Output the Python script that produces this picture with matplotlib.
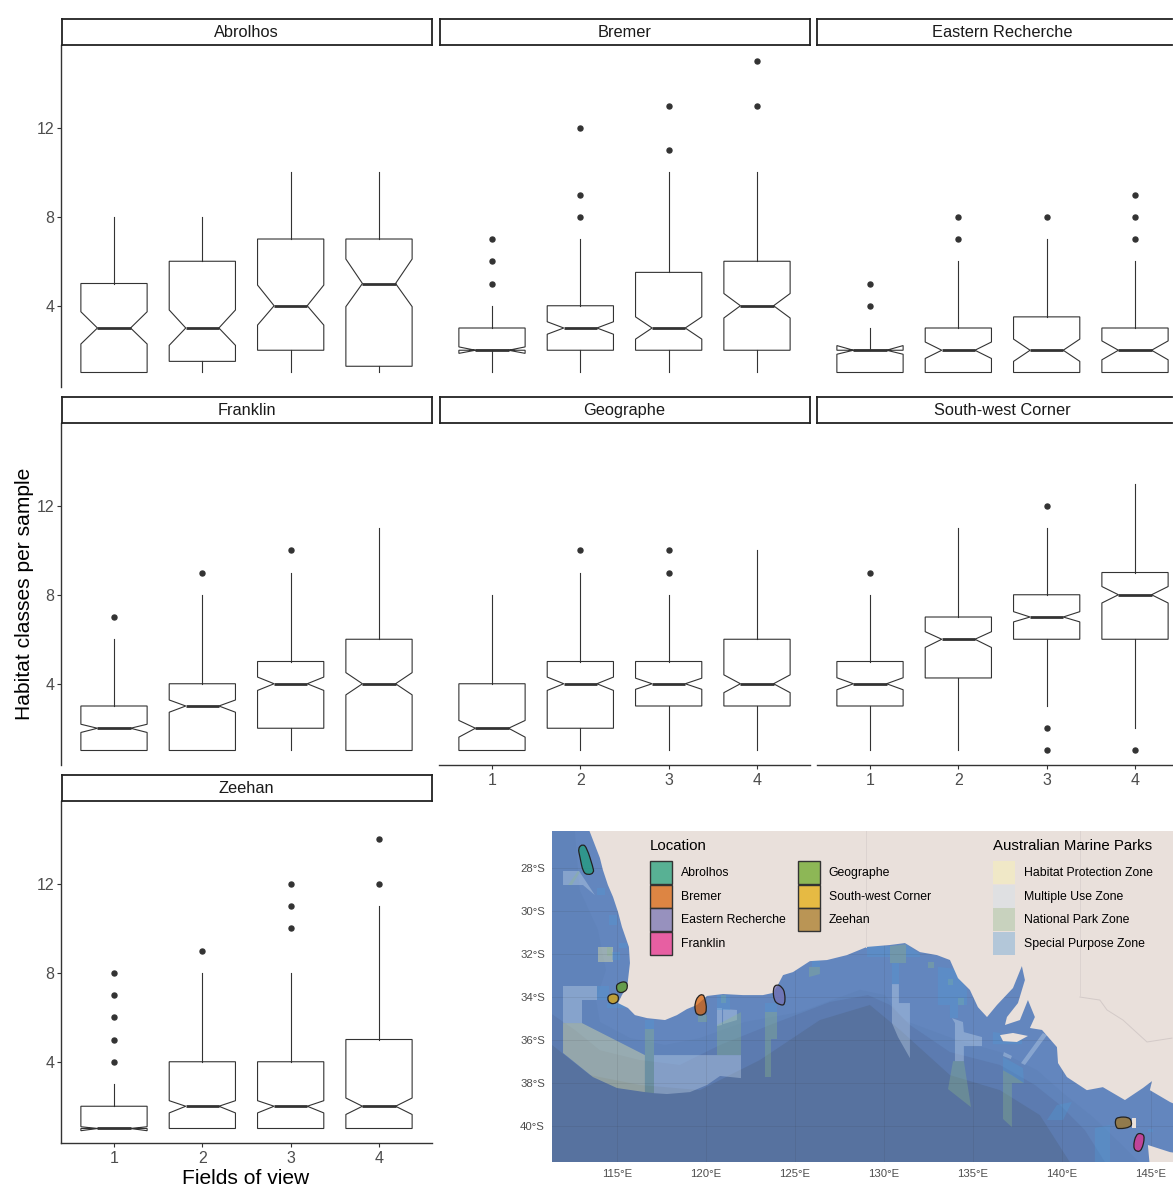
# habitat classes per sample by fields of view, with site map
import matplotlib
matplotlib.use('Agg')
from matplotlib import pyplot as plt
from matplotlib.colors import to_rgba
from matplotlib.patches import Patch, PathPatch, Polygon
from matplotlib.path import Path

plt.rcParams['font.family'] = ['Liberation Sans', 'DejaVu Sans']

W, H = 1173, 1187

# box plot values, one row per facet, one entry per fields of view (1-4)
facets = ['Abrolhos', 'Bremer', 'Eastern Recherche', 'Franklin', 'Geographe',
          'South-west Corner', 'Zeehan']
fields = [1, 2, 3, 4]
box_q1 = [[1, 1.5, 2, 1.28], [2, 2, 2, 2], [1, 1, 1, 1], [1, 1, 2, 1],
          [1, 2, 3, 3], [3, 4.26, 6, 6], [1, 1, 1, 1]]
box_med = [[3, 3, 4, 5], [2, 3, 3, 4], [2, 2, 2, 2], [2, 3, 4, 4],
           [2, 4, 4, 4], [4, 6, 7, 8], [1, 2, 2, 2]]
box_q3 = [[5, 6, 7, 7], [3, 4, 5.5, 6], [2, 3, 3.5, 3], [3, 4, 5, 6],
          [4, 5, 5, 6], [5, 7, 8, 9], [2, 4, 4, 5]]
whisk_lo = [[1, 1, 1, 1], [1, 1, 1, 1], [1, 1, 1, 1], [1, 1, 1, 1],
            [1, 1, 1, 1], [1, 1, 3, 2], [1, 1, 1, 1]]
whisk_hi = [[8, 8, 10, 10], [4, 7, 10, 10], [3, 6, 7, 6], [6, 8, 9, 11],
            [8, 9, 8, 10], [8, 11, 11, 13], [3, 8, 8, 11]]
notch_lo = [[2.28, 2.22, 3.13, 3.96], [1.86, 2.72, 2.5, 3.45], [1.82, 1.63, 1.5, 1.57],
            [1.81, 2.72, 3.7, 3.5], [1.6, 3.7, 3.75, 3.6], [3.73, 5.63, 6.78, 7.63],
            [0.9, 1.7, 1.7, 1.63]]
notch_hi = [[3.73, 3.81, 4.93, 6.1], [2.15, 3.28, 3.5, 4.55], [2.21, 2.37, 2.5, 2.42],
            [2.18, 3.27, 4.3, 4.5], [2.35, 4.3, 4.25, 4.4], [4.27, 6.34, 7.24, 8.37],
            [1.08, 2.25, 2.25, 2.37]]
outliers = [[[], [], [], []],
            [[5, 6, 7], [8, 9, 12], [11, 13], [13, 15]],
            [[4, 5], [7, 8], [8], [7, 8, 9]],
            [[7], [9], [10], []],
            [[], [10], [9, 10], []],
            [[9], [], [1, 2, 12], [1]],
            [[4, 5, 6, 7, 8], [9], [10, 11, 12], [12, 14]]]

# map layers, lon/lat
abyss_lon = [111.0, 113.48, 116.29, 119.66, 123.03, 126.40, 129.21, 130.90, 133.71, 136.52,
             138.76, 140.73, 111.0]
abyss_lat = [-36.0, -37.63, -38.09, -38.33, -36.93, -35.07, -34.37, -35.53, -37.63, -38.33,
             -39.49, -42.05, -42.05]
deep_lon = [111.0, 112.64, 114.04, 116.29, 118.54, 120.79, 123.60, 126.97, 129.10, 130.34,
            131.46, 133.71, 136.52, 138.48, 139.89, 141.29, 142.70, 111.0]
deep_lat = [-34.60, -35.53, -36.47, -36.93, -37.16, -36.23, -35.30, -34.23, -33.91, -34.37,
            -35.30, -36.56, -37.16, -38.09, -39.02, -40.19, -42.05, -42.05]
slope_lon = [111.0, 112.6, 112.9, 113.93, 114.38, 113.82, 114.04, 115.73, 117.70, 119.66, 122.19,
             125.28, 128.65, 130.06, 131.07, 134.10, 136.69, 138.60, 140.06, 141.74, 143.26,
             144.78, 111.0]
slope_lat = [-26.0, -26.0, -29.02, -30.88, -32.74, -34.14, -35.16, -35.91, -36.23, -35.91, -35.16,
             -34.70, -33.67, -33.91, -35.07, -36.00, -36.60, -37.40, -38.47, -39.58, -40.79,
             -42.05, -42.05]
land_lon = [113.48, 113.76, 114.04, 114.21, 114.49, 114.78, 115.06, 115.28, 115.67, 115.73,
            115.62, 115.56, 115.28, 115.06, 115.62, 116.01, 116.69, 117.70, 118.37, 118.93,
            119.49, 120.06, 120.96, 122.08, 123.20, 123.76, 124.04, 124.33, 124.89, 125.84,
            126.80, 127.92, 129.04, 130.34, 131.18, 132.02, 132.98, 133.71, 134.16, 134.83,
            135.28, 135.79, 136.35, 137.25, 137.75, 137.92, 137.53, 136.91, 136.80, 137.64,
            138.09, 138.48, 138.20, 138.88, 139.72, 139.78, 140.28, 141.40, 142.30, 143.54,
            144.55, 145.06, 144.94, 146.07, 146.4, 146.4, 113.3]
land_lat = [-26.33, -26.93, -27.53, -28.09, -28.79, -29.35, -30.05, -30.74, -31.67, -32.42,
            -33.21, -33.53, -33.91, -34.28, -34.51, -34.84, -34.98, -35.07, -34.84, -34.56,
            -34.37, -33.95, -33.86, -33.91, -33.91, -33.81, -33.44, -32.98, -32.84, -32.33,
            -32.28, -32.05, -31.67, -31.58, -31.49, -31.91, -32.05, -32.28, -33.12, -33.67,
            -34.47, -34.93, -34.37, -33.58, -32.56, -33.21, -34.28, -34.93, -35.30, -35.07,
            -34.14, -34.93, -35.44, -35.53, -36.33, -37.07, -37.72, -38.33, -38.19, -38.79,
            -38.23, -37.91, -38.33, -38.88, -39.0, -26.0, -26.0]
islands = [([136.52, 137.25, 138.09, 137.47, 136.69], [-35.77, -35.67, -35.81, -36.09, -36.05]),
           ([144.83, 146.07, 146.4, 146.4, 144.94], [-40.88, -41.21, -41.25, -41.9, -41.9]),
           ([143.93, 144.16, 144.16, 143.93], [-39.63, -39.63, -40.09, -40.09])]
border_lon = [141.01, 142.13, 142.53, 143.43, 144.78, 146.18]
border_lat = [-34.0, -34.14, -34.60, -35.07, -36.09, -35.91]

# Australian Marine Parks zones
hpz_polys = [([111.97, 113.03, 116.57, 116.57, 115.0, 113.65, 111.97],
              [-35.21, -35.21, -36.70, -38.42, -38.23, -37.72, -36.60]),
             ([113.93, 114.78, 114.78, 113.93], [-31.67, -31.67, -32.37, -32.37])]
muz_polys = [([111.97, 113.88, 113.88, 113.03, 113.03, 111.97],
              [-33.49, -33.49, -34.14, -34.14, -35.21, -35.21]),
             ([117.08, 121.97, 121.97, 120.79, 120.06, 119.10, 117.81, 117.08],
              [-36.70, -36.70, -37.77, -37.67, -38.09, -38.42, -38.51, -38.47]),
             ([120.62, 120.90, 120.90, 120.62], [-34.51, -34.51, -35.30, -35.35]),
             ([120.96, 121.74, 121.74, 120.96], [-34.56, -34.60, -35.07, -35.26]),
             ([111.97, 112.87, 113.76, 113.09, 111.97], [-28.14, -28.14, -29.26, -28.79, -28.79]),
             ([130.45, 130.84, 130.84, 131.46, 131.46, 130.79, 130.45],
              [-33.40, -33.40, -34.28, -34.28, -36.84, -35.86, -35.21]),
             ([133.82, 134.44, 134.49, 135.51, 135.51, 134.49, 134.49, 133.99, 133.99],
              [-34.98, -35.16, -35.63, -35.86, -36.28, -36.28, -36.98, -36.98, -35.21]),
             ([136.74, 137.19, 137.13, 136.69], [-36.56, -36.74, -36.88, -36.74]),
             ([138.93, 139.16, 137.92, 137.70], [-35.67, -35.77, -37.16, -37.07])]
npz_polys = [([116.57, 117.08, 117.08, 116.57], [-35.49, -35.49, -38.47, -38.42]),
             ([120.62, 121.97, 121.97, 120.62], [-35.30, -34.70, -36.70, -36.70]),
             ([120.84, 121.12, 121.12, 120.84], [-33.91, -33.91, -34.28, -34.28]),
             ([123.31, 123.99, 123.99, 123.65, 123.65, 123.31],
              [-34.70, -34.70, -35.95, -35.95, -37.72, -37.72]),
             ([119.55, 120.06, 120.06, 119.55], [-34.84, -34.84, -35.16, -35.16]),
             ([112.25, 112.81, 112.92, 112.47], [-28.79, -28.14, -28.19, -28.79]),
             ([114.44, 114.72, 114.72, 114.44], [-31.67, -31.67, -32.09, -32.09]),
             ([125.79, 126.40, 126.40, 125.79], [-32.60, -32.60, -32.93, -33.07]),
             ([130.34, 131.24, 131.24, 130.34], [-31.63, -31.55, -32.42, -32.42]),
             ([133.60, 133.88, 133.88, 133.60], [-33.16, -33.16, -33.44, -33.44]),
             ([134.16, 134.49, 134.49, 134.16], [-34.05, -34.05, -34.37, -34.37]),
             ([132.47, 132.81, 132.81, 132.47], [-32.37, -32.37, -32.65, -32.65]),
             ([133.88, 134.49, 134.89, 133.60], [-36.98, -36.98, -39.12, -38.28]),
             ([136.69, 137.19, 137.87, 137.19, 137.19, 136.69],
              [-37.40, -37.63, -38.0, -38.0, -40.05, -39.67])]
spz_polys = [([116.57, 117.08, 117.08, 116.57], [-35.07, -35.07, -35.49, -35.49]),
             ([120.62, 121.35, 121.35, 120.62], [-33.91, -33.91, -34.60, -34.60]),
             ([123.31, 123.99, 123.99, 123.31], [-34.28, -34.28, -34.70, -34.70]),
             ([113.88, 114.55, 114.55, 113.88], [-33.49, -33.49, -34.14, -34.14]),
             ([114.44, 115.45, 115.45, 114.44], [-34.28, -34.28, -34.51, -34.51]),
             ([113.88, 114.33, 114.33, 113.88], [-28.93, -28.93, -29.26, -29.26]),
             ([114.55, 115.0, 115.0, 114.55], [-30.19, -30.19, -30.65, -30.65]),
             ([114.72, 115.17, 115.17, 114.72], [-31.91, -31.91, -32.28, -32.28]),
             ([115.11, 115.56, 115.56, 115.11], [-31.49, -31.49, -31.72, -31.72]),
             ([125.96, 126.40, 126.40, 125.96], [-32.33, -32.33, -32.60, -32.60]),
             ([129.04, 130.34, 130.34, 129.04], [-31.63, -31.63, -32.14, -32.14]),
             ([131.24, 132.02, 132.02, 131.24], [-31.55, -32.0, -32.14, -32.14]),
             ([130.45, 130.84, 130.84, 130.45], [-32.42, -32.42, -33.40, -33.40]),
             ([133.03, 134.10, 134.66, 134.66, 134.16, 134.16, 133.71, 133.71, 133.03],
              [-32.60, -32.70, -33.67, -34.37, -34.37, -34.98, -34.98, -34.37, -34.37]),
             ([136.69, 137.81, 137.87, 136.69], [-36.79, -37.30, -38.0, -37.40]),
             ([136.12, 136.52, 136.63, 137.75, 137.75, 136.12],
              [-35.63, -35.67, -36.09, -35.91, -36.19, -36.19]),
             ([139.72, 140.56, 140.06, 139.16], [-39.02, -38.88, -39.72, -39.72]),
             ([141.85, 142.70, 142.70, 141.85], [-40.09, -39.95, -41.9, -41.9]),
             ([144.83, 145.11, 145.11, 144.83], [-40.14, -40.14, -40.28, -40.28])]
zone_names = ['Habitat Protection Zone', 'Multiple Use Zone', 'National Park Zone',
              'Special Purpose Zone']
zone_polys = [hpz_polys, muz_polys, npz_polys, spz_polys]
zone_colors = ['#fff8a3', '#cfe0f0', '#8cb88a', '#4f9ad6']

# survey locations, same order as facets
site_colors = ['#1B9E77', '#D95F02', '#7570B3', '#E7298A', '#66A61E', '#E6AB02', '#A6761D']
site_polys = [([113.09, 113.31, 113.65, 113.71, 113.37, 113.09, 112.92, 112.81],
               [-26.88, -27.07, -27.95, -28.23, -28.33, -28.19, -27.49, -27.07]),
              ([119.38, 119.55, 119.83, 119.94, 120.06, 119.89, 119.49, 119.38],
               [-34.28, -33.95, -33.86, -34.05, -34.60, -34.84, -34.84, -34.60]),
              ([123.76, 123.99, 124.27, 124.44, 124.44, 124.16, 123.82],
               [-33.58, -33.40, -33.53, -33.81, -34.37, -34.37, -34.19]),
              ([144.16, 144.49, 144.66, 144.49, 144.21, 143.99],
               [-40.37, -40.33, -40.51, -41.12, -41.21, -40.98]),
              ([114.94, 115.06, 115.51, 115.62, 115.45, 115.06],
               [-33.53, -33.35, -33.26, -33.53, -33.77, -33.81]),
              ([114.44, 114.61, 115.0, 115.11, 115.0, 114.61],
               [-34.05, -33.86, -33.86, -34.05, -34.28, -34.33]),
              ([142.98, 143.15, 143.76, 143.93, 143.88, 143.20, 143.03],
               [-39.72, -39.58, -39.58, -39.81, -40.05, -40.14, -40.05])]

lon_ticks = [115, 120, 125, 130, 135, 140, 145]
lat_ticks = [-28, -30, -32, -34, -36, -38, -40]


def px_axes(left, top, right, bottom):
    # axes placed by pixel edges, y counted from the top of the picture
    return fig.add_axes([left / W, 1 - bottom / H, (right - left) / W, (bottom - top) / H])


def rounded_path(lons, lats):
    # closed path with the read points as control points, so the outline comes out smooth
    pts = list(zip(lons, lats))
    n = len(pts)
    mids = [((pts[k][0] + pts[(k + 1) % n][0]) / 2, (pts[k][1] + pts[(k + 1) % n][1]) / 2)
            for k in range(n)]
    verts = [mids[-1]]
    codes = [Path.MOVETO]
    for k in range(n):
        verts += [pts[k], mids[k]]
        codes += [Path.CURVE3, Path.CURVE3]
    return Path(verts, codes)


fig = plt.figure(figsize=(W / 100, H / 100), dpi=100)

col_left = [61, 439, 817]
row_top = [45, 423, 801]
panel_w = 371
panel_h = 342
ink = '#333333'

for i, name in enumerate(facets):
    row, col = i // 3, i % 3
    left = col_left[col]
    top = row_top[row]
    right = min(left + panel_w, W)

    ax = px_axes(left, top, right, top + panel_h)
    stats = []
    for j in range(len(fields)):
        stats.append({'med': box_med[i][j], 'q1': box_q1[i][j], 'q3': box_q3[i][j],
                      'cilo': notch_lo[i][j], 'cihi': notch_hi[i][j],
                      'whislo': whisk_lo[i][j], 'whishi': whisk_hi[i][j],
                      'fliers': outliers[i][j]})
    ax.bxp(stats, positions=fields, widths=0.75, shownotches=True, showcaps=False,
           patch_artist=True, manage_ticks=False,
           boxprops=dict(facecolor='white', edgecolor=ink, linewidth=0.8),
           whiskerprops=dict(color=ink, linewidth=0.8),
           medianprops=dict(color=ink, linewidth=2.0, solid_capstyle='butt'),
           flierprops=dict(marker='o', markerfacecolor=ink, markeredgecolor=ink,
                           markersize=3.6, linestyle='none'))
    ax.set_xlim(0.4, 0.4 + 4.2 * (right - left) / panel_w)
    ax.set_ylim(0.348, 15.72)
    ax.spines['top'].set_visible(False)
    ax.spines['right'].set_visible(False)
    ax.spines['left'].set_color(ink)
    ax.spines['bottom'].set_color(ink)
    ax.spines['left'].set_linewidth(1)
    ax.spines['bottom'].set_linewidth(1)
    ax.set_xticks(fields)
    ax.set_yticks([4, 8, 12])
    ax.tick_params(colors=ink, labelcolor='#4d4d4d', labelsize=11.5, length=3, width=0.8, pad=1.5)
    ax.tick_params(axis='x', pad=3)

    # only the outer panels carry axes
    if col != 0:
        ax.spines['left'].set_visible(False)
        ax.tick_params(left=False, labelleft=False)
    if i < 4:
        ax.spines['bottom'].set_visible(False)
        ax.tick_params(bottom=False, labelbottom=False)

    strip = px_axes(left + 0.5, top - 26.5, right - 0.5, top - 0.5)
    strip.set_xlim(left, right)
    strip.set_ylim(0, 1)
    strip.set_xticks([])
    strip.set_yticks([])
    for s in strip.spines.values():
        s.set_color('#222222')
        s.set_linewidth(1.3)
    if right == W:
        strip.spines['right'].set_visible(False)
    strip.text(left + panel_w / 2, 0.45, name, ha='center', va='center', fontsize=11.8,
               color='#1a1a1a')

fig.text(25 / W, 1 - 594 / H, 'Habitat classes per sample', rotation=90, ha='center',
         va='center', fontsize=15.1, color='black')
fig.text(246 / W, 1 - 1178 / H, 'Fields of view', ha='center', va='center', fontsize=15.1,
         color='black')

# site map
m = px_axes(552, 831, 1173, 1162)
m.set_facecolor('#6386BE')
m.add_patch(Polygon(list(zip(slope_lon, slope_lat)), facecolor='#6083BA', edgecolor='none', zorder=1))
m.add_patch(Polygon(list(zip(deep_lon, deep_lat)), facecolor='#5C7BB0', edgecolor='none', zorder=1.05))
m.add_patch(Polygon(list(zip(abyss_lon, abyss_lat)), facecolor='#57729F', edgecolor='none', zorder=1.1))
for polys, c in zip(zone_polys, zone_colors):
    for lons, lats in polys:
        m.add_patch(Polygon(list(zip(lons, lats)), facecolor=c, alpha=0.35, edgecolor='none', zorder=1.4))
land = '#E9E0DB'
m.add_patch(Polygon(list(zip(land_lon, land_lat)), facecolor=land, edgecolor='none', zorder=1.8))
for lons, lats in islands:
    m.add_patch(Polygon(list(zip(lons, lats)), facecolor=land, edgecolor='none', zorder=1.8))
m.plot(border_lon, border_lat, color='#d3cac8', linewidth=0.7, zorder=1.9)
m.plot([141.01, 141.01], [-34.0, -26.0], color='#dcd3d0', linewidth=0.7, zorder=1.9)
m.plot([129.0, 129.0], [-31.67, -26.0], color='#dcd3d0', linewidth=0.7, zorder=1.9)
for (lons, lats), c in zip(site_polys, site_colors):
    m.add_patch(PathPatch(rounded_path(lons, lats), facecolor=to_rgba(c, 0.7), edgecolor='#222222',
                          linewidth=0.9, zorder=3))
m.set_xlim(111.35, 146.24)
m.set_ylim(-41.67, -26.28)
m.set_xticks(lon_ticks)
m.set_xticklabels([f'{v}°E' for v in lon_ticks])
m.set_yticks(lat_ticks)
m.set_yticklabels([f'{-v}°S' for v in lat_ticks])
m.tick_params(length=0, labelsize=8.2, labelcolor='#4d4d4d', pad=5)
m.grid(True, color='#333333', alpha=0.1, linewidth=0.7)
m.set_axisbelow('line')
for s in m.spines.values():
    s.set_visible(False)

site_handles = [Patch(facecolor=to_rgba(c, 0.7), edgecolor='#333333', linewidth=1, label=n)
                for c, n in zip(site_colors, facets)]
zone_handles = [Patch(facecolor=c, alpha=0.35, edgecolor='none', label=n)
                for c, n in zip(zone_colors, zone_names)]
leg_opts = dict(loc='upper left', bbox_transform=fig.transFigure, frameon=False, fontsize=8.8,
                title_fontsize=10.85, alignment='left', borderpad=0, borderaxespad=0,
                handlelength=1.8, handleheight=2.5, labelspacing=0.05, handletextpad=0.7,
                columnspacing=1.05)
leg1 = m.legend(handles=site_handles, title='Location', ncol=2,
                bbox_to_anchor=(650 / W, 1 - 839 / H), **leg_opts)
leg1._legend_box.sep = 6
leg1.set_zorder(5)
m.add_artist(leg1)
leg2 = m.legend(handles=zone_handles, title='Australian Marine Parks', ncol=1,
                bbox_to_anchor=(993 / W, 1 - 839 / H), **leg_opts)
leg2._legend_box.sep = 6
leg2.set_zorder(5)

plt.savefig('out.png', dpi=100)
